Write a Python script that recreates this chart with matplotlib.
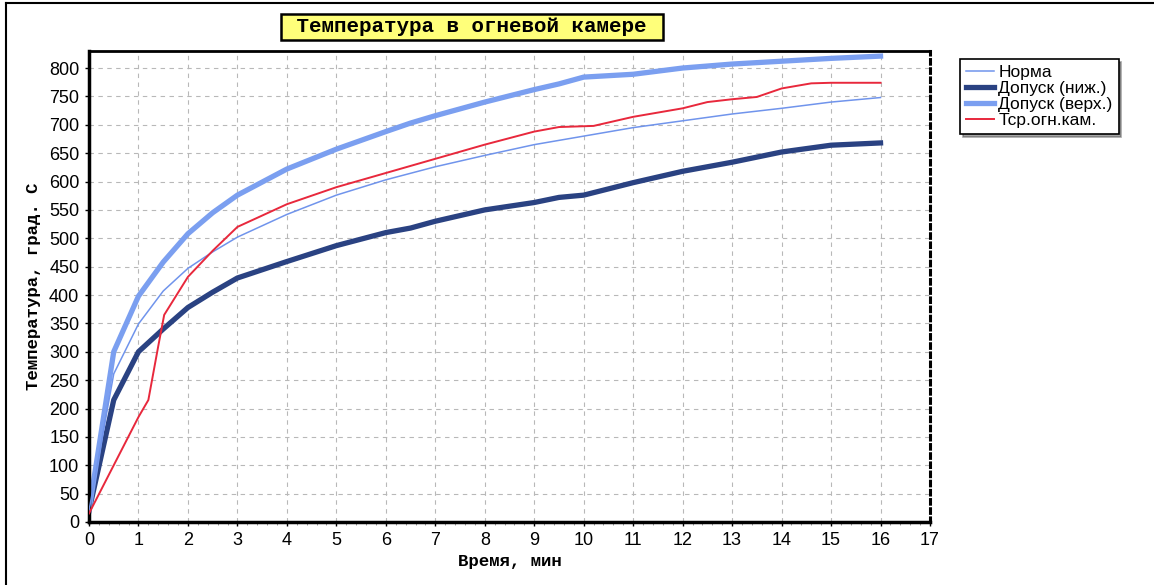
import matplotlib.pyplot as plt
import numpy as np

# данные
norma_t = [0, 0.5, 1, 1.5, 2, 2.5, 3, 4, 5, 6, 7, 8, 9, 10, 11, 12, 13, 14, 15, 16]
norma = [20, 261, 349, 407, 447, 476, 502, 542, 576, 603, 626, 646, 665, 680, 695, 707, 719, 729, 740, 748]

lower_t = [0, 0.5, 1, 1.5, 2, 2.5, 3, 4, 5, 6, 6.5, 7, 8, 9, 9.5, 10, 11, 12, 13, 14, 15, 16]
lower = [20, 215, 300, 340, 378, 405, 430, 459, 487, 510, 518, 530, 550, 563, 572, 576, 598, 618, 634, 652, 664, 668]

upper_t = [0, 0.5, 1, 1.5, 2, 2.5, 3, 4, 5, 6, 6.5, 7, 8, 9, 9.5, 10, 11, 12, 13, 14, 15, 16]
upper = [20, 300, 398, 458, 508, 545, 576, 622, 657, 688, 703, 716, 740, 762, 772, 784, 789, 800, 807, 812, 817, 821]

red_t = [0, 0.5, 1, 1.2, 1.4, 1.52, 2, 2.5, 3, 4, 5, 6, 7, 8, 9, 9.5, 10.2, 11, 12, 12.5, 13, 13.5, 14, 14.6, 15, 16]
red = [15, 100, 185, 215, 310, 365, 432, 478, 520, 560, 590, 615, 640, 665, 688, 696, 698, 714, 729, 740, 745, 749, 764, 773, 774, 774]

labels = ['Норма', 'Допуск (ниж.)', 'Допуск (верх.)', 'Тср.огн.кам.']

fig = plt.figure(figsize=(11.54, 5.85), dpi=100)
ax = fig.add_axes([89 / 1154, 63 / 585, 841 / 1154, 471 / 585])

l1, = ax.plot(norma_t, norma, color='#7094ec', linewidth=1.1)
l2, = ax.plot(lower_t, lower, color='#2a4282', linewidth=3.8)
l3, = ax.plot(upper_t, upper, color='#7b9ff0', linewidth=3.8)
l4, = ax.plot(red_t, red, color='#e8283c', linewidth=1.4)
l1.set_zorder(4)
l4.set_zorder(5)

ax.set_xlim(0, 17)
ax.set_ylim(0, 830)
ax.set_xticks(np.arange(0, 18, 1))
ax.set_xticks(np.arange(0, 17.01, 0.2), minor=True)
ax.set_yticks(np.arange(0, 801, 50))

ax.grid(True, color='#b8b8b8', linestyle=(0, (4, 4)), linewidth=0.8)
ax.tick_params(axis='both', labelsize=13, length=3, width=1, pad=4)
ax.tick_params(axis='x', which='minor', length=2, color='#888888')
for lab in ax.get_xticklabels() + ax.get_yticklabels():
    lab.set_family('Liberation Sans')

ax.spines['left'].set_linewidth(2.5)
ax.spines['bottom'].set_linewidth(2.5)
ax.spines['top'].set_linewidth(2.0)
ax.spines['right'].set_linestyle((0, (1.5, 1.5)))
ax.spines['right'].set_linewidth(2.2)

ax.set_xlabel('Время, мин', family='Liberation Mono', fontweight='bold',
              fontsize=12.5, labelpad=4)
ax.set_ylabel('Температура, град. С', family='Liberation Mono', fontweight='bold',
              fontsize=12.5, labelpad=6)

# заголовок в жёлтой рамке
fig.text(472 / 1154, 1 - 27 / 585, ' Температура в огневой камере ',
         family='Liberation Mono', fontweight='bold', fontsize=15,
         ha='center', va='center',
         bbox=dict(boxstyle='square,pad=0.15', facecolor='#ffff7a',
                   edgecolor='black', linewidth=1.8))

leg = fig.legend(handles=[l1, l2, l3, l4], labels=labels,
                 loc='upper left', bbox_to_anchor=(960 / 1154, 1 - 59 / 585),
                 fancybox=False, shadow=True, edgecolor='black', framealpha=1,
                 prop={'family': 'Liberation Sans', 'size': 12.5},
                 handlelength=1.6, handletextpad=0.25, labelspacing=0.05,
                 borderpad=0.35, borderaxespad=0)
leg.get_frame().set_linewidth(1.2)

# рамка рисунка
fig.add_artist(plt.Line2D([6 / 1154, 6 / 1154], [0, 1 - 3 / 585],
                          transform=fig.transFigure, color='black', linewidth=1.5))
fig.add_artist(plt.Line2D([6 / 1154, 1], [1 - 3 / 585, 1 - 3 / 585],
                          transform=fig.transFigure, color='black', linewidth=1.5))

fig.savefig('out.png', dpi=100)
